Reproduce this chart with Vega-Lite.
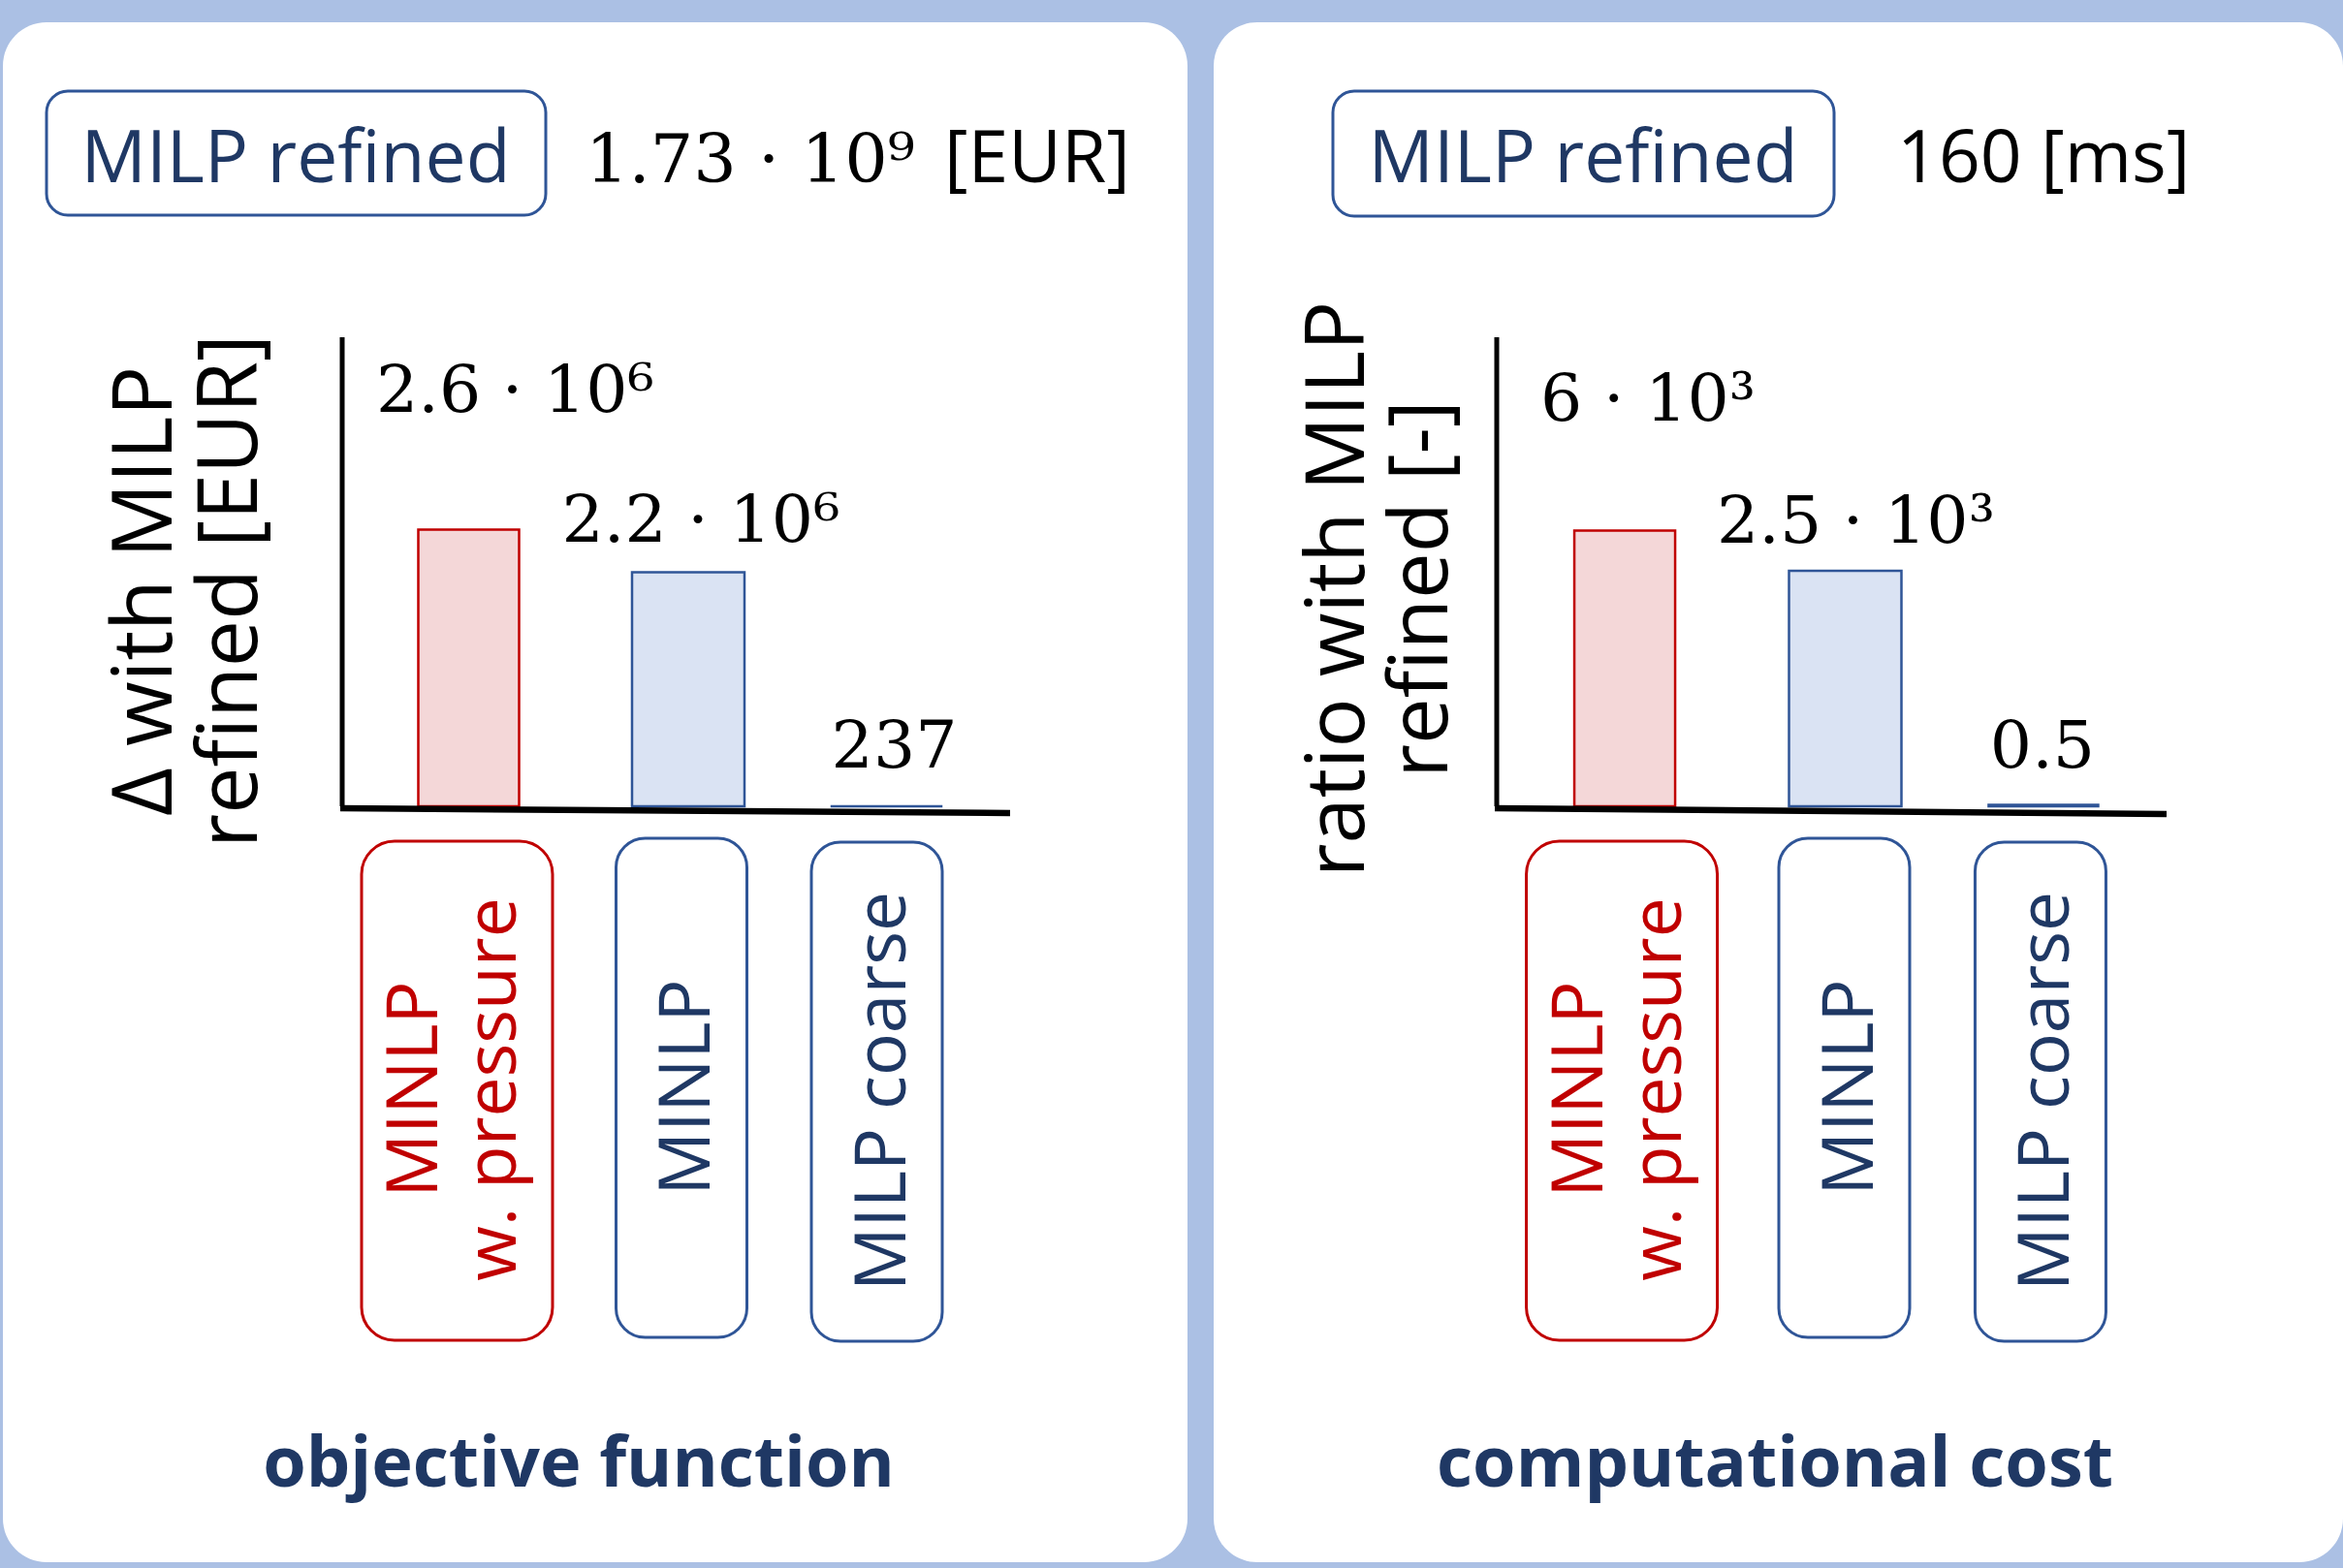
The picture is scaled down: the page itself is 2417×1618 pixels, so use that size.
{
  "$schema": "https://vega.github.io/schema/vega-lite/v6.json",
  "background": "#abc0e4",
  "padding": {"left": 3, "top": 23, "right": 0, "bottom": 6},
  "spacing": 27,
  "config": {
    "view": {"stroke": null, "fill": "white", "cornerRadius": 45},
    "font": "Open Sans",
    "text": {"font": "Open Sans"}
  },
  "datasets": {
    "objective": [
      {"model": "MINLP\nw. pressure", "value": 2600000, "label": "2.6 · 10⁶"},
      {"model": "MINLP", "value": 2200000, "label": "2.2 · 10⁶"},
      {"model": "MILP coarse", "value": 237, "label": "237"}
    ],
    "cost": [
      {"model": "MINLP\nw. pressure", "value": 6000, "label": "6 · 10³"},
      {"model": "MINLP", "value": 2500, "label": "2.5 · 10³"},
      {"model": "MILP coarse", "value": 0.5, "label": "0.5"}
    ]
  },
  "hconcat": [
    {
      "width": 1222,
      "height": 1589,
      "data": {"name": "objective"},
      "layer": [
        {
          "data": {"values": [{"name": "MILP refined"}]},
          "mark": {"type": "rect", "cornerRadius": 22, "fill": "white", "stroke": "#2f5597", "strokeWidth": 3},
          "encoding": {"x": {"value": 45}, "x2": {"value": 560}, "y": {"value": 71}, "y2": {"value": 199}}
        },
        {
          "data": {"values": [{"name": "MILP refined"}]},
          "mark": {"type": "text", "fontSize": 75, "color": "#1f3864", "align": "center", "baseline": "alphabetic"},
          "encoding": {"text": {"field": "name"}, "x": {"value": 302}, "y": {"value": 165}}
        },
        {
          "data": {"values": [{"total": "1.73 · 10⁹"}]},
          "mark": {"type": "text", "font": "DejaVu Serif", "fontSize": 70, "color": "black", "align": "left", "baseline": "alphabetic"},
          "encoding": {"text": {"field": "total"}, "x": {"value": 601}, "y": {"value": 165}}
        },
        {
          "data": {"values": [{"unit": "[EUR]"}]},
          "mark": {"type": "text", "fontSize": 75, "color": "black", "align": "left", "baseline": "alphabetic"},
          "encoding": {"text": {"field": "unit"}, "x": {"value": 971}, "y": {"value": 165}}
        },
        {
          "data": {"values": [{"title": "Δ with MILP\nrefined [EUR]"}]},
          "mark": {"type": "text", "fontSize": 86, "color": "black", "angle": 270, "align": "center", "baseline": "alphabetic", "lineBreak": "\n", "lineHeight": 88},
          "encoding": {"text": {"field": "title"}, "x": {"value": 174}, "y": {"value": 587}}
        },
        {
          "transform": [{"filter": {"field": "model", "equal": "MINLP\nw. pressure"}}],
          "mark": {"type": "bar", "width": 104, "strokeWidth": 2.5, "xOffset": 2},
          "encoding": {
            "x": {
              "field": "model", "type": "nominal", "sort": null,
              "scale": {"domain": ["MINLP\nw. pressure", "MINLP", "MILP coarse"], "range": [350, 1040], "paddingInner": 0, "paddingOuter": 0.0935},
              "axis": null
            },
            "y": {
              "field": "value", "type": "quantitative",
              "scale": {"domain": [0, 4409000], "range": [809, 325], "nice": false},
              "axis": null
            },
            "fill": {"field": "model", "type": "nominal", "scale": {"domain": ["MINLP\nw. pressure", "MINLP", "MILP coarse"], "range": ["#f4d7d8", "#dae3f3", "#dae3f3"]}, "legend": null},
            "stroke": {"field": "model", "type": "nominal", "scale": {"domain": ["MINLP\nw. pressure", "MINLP", "MILP coarse"], "range": ["#c00000", "#2f5597", "#2f5597"]}, "legend": null}
          }
        },
        {
          "transform": [{"filter": {"field": "model", "equal": "MINLP"}}],
          "mark": {"type": "bar", "width": 116, "strokeWidth": 2.5, "xOffset": 12},
          "encoding": {
            "x": {"field": "model", "type": "nominal", "axis": null},
            "y": {"field": "value", "type": "quantitative", "axis": null},
            "fill": {"field": "model", "type": "nominal", "legend": null},
            "stroke": {"field": "model", "type": "nominal", "legend": null}
          }
        },
        {
          "transform": [{"filter": {"field": "model", "equal": "MILP coarse"}}],
          "mark": {"type": "bar", "width": 113, "strokeWidth": 2.5},
          "encoding": {
            "x": {"field": "model", "type": "nominal", "axis": null},
            "y": {"field": "value", "type": "quantitative", "axis": null},
            "fill": {"field": "model", "type": "nominal", "legend": null},
            "stroke": {"field": "model", "type": "nominal", "legend": null}
          }
        },
        {
          "data": {"values": [{"axis": "y"}]},
          "mark": {"type": "rule", "color": "black", "strokeWidth": 5},
          "encoding": {"x": {"value": 350}, "y": {"datum": 0, "type": "quantitative", "axis": null}, "y2": {"datum": 4409000}}
        },
        {
          "data": {"values": [{"axis": "x"}]},
          "mark": {"type": "rule", "color": "black", "strokeWidth": 6.5},
          "encoding": {"x": {"value": 348}, "x2": {"value": 1039}, "y": {"value": 811}, "y2": {"value": 816}}
        },
        {
          "transform": [{"filter": {"field": "model", "equal": "MINLP\nw. pressure"}}],
          "mark": {"type": "text", "font": "DejaVu Serif", "fontSize": 68, "color": "black", "align": "center", "baseline": "alphabetic", "dx": 50, "dy": -122},
          "encoding": {"x": {"field": "model", "type": "nominal", "axis": null}, "y": {"field": "value", "type": "quantitative", "axis": null}, "text": {"field": "label"}}
        },
        {
          "transform": [{"filter": {"field": "model", "equal": "MINLP"}}],
          "mark": {"type": "text", "font": "DejaVu Serif", "fontSize": 68, "color": "black", "align": "center", "baseline": "alphabetic", "dx": 25, "dy": -31},
          "encoding": {"x": {"field": "model", "type": "nominal", "axis": null}, "y": {"field": "value", "type": "quantitative", "axis": null}, "text": {"field": "label"}}
        },
        {
          "transform": [{"filter": {"field": "model", "equal": "MILP coarse"}}],
          "mark": {"type": "text", "font": "DejaVu Serif", "fontSize": 68, "color": "black", "align": "center", "baseline": "alphabetic", "dx": 8, "dy": -40},
          "encoding": {"x": {"field": "model", "type": "nominal", "axis": null}, "y": {"field": "value", "type": "quantitative", "axis": null}, "text": {"field": "label"}}
        },
        {
          "transform": [{"filter": {"field": "model", "equal": "MINLP\nw. pressure"}}],
          "mark": {"type": "bar", "width": 197, "cornerRadius": 34, "fill": "transparent", "strokeWidth": 3, "xOffset": -10},
          "encoding": {
            "x": {"field": "model", "type": "nominal", "axis": null},
            "y": {"value": 845}, "y2": {"value": 1360},
            "stroke": {"field": "model", "type": "nominal", "legend": null}
          }
        },
        {
          "transform": [{"filter": {"field": "model", "equal": "MINLP"}}],
          "mark": {"type": "bar", "width": 135, "cornerRadius": 30, "fill": "transparent", "strokeWidth": 3, "xOffset": 5},
          "encoding": {
            "x": {"field": "model", "type": "nominal", "axis": null},
            "y": {"value": 842}, "y2": {"value": 1357},
            "stroke": {"field": "model", "type": "nominal", "legend": null}
          }
        },
        {
          "transform": [{"filter": {"field": "model", "equal": "MILP coarse"}}],
          "mark": {"type": "bar", "width": 135, "cornerRadius": 30, "fill": "transparent", "strokeWidth": 3, "xOffset": -10},
          "encoding": {
            "x": {"field": "model", "type": "nominal", "axis": null},
            "y": {"value": 846}, "y2": {"value": 1361},
            "stroke": {"field": "model", "type": "nominal", "legend": null}
          }
        },
        {
          "transform": [{"filter": {"field": "model", "equal": "MINLP\nw. pressure"}}],
          "mark": {"type": "text", "angle": 270, "align": "center", "baseline": "alphabetic", "lineBreak": "\n", "lineHeight": 81, "fontSize": 73, "dy": -30},
          "encoding": {
            "x": {"field": "model", "type": "nominal", "axis": null},
            "y": {"value": 1101},
            "text": {"field": "model"},
            "color": {"field": "model", "type": "nominal", "scale": {"domain": ["MINLP\nw. pressure", "MINLP", "MILP coarse"], "range": ["#c00000", "#1f3864", "#1f3864"]}, "legend": null}
          }
        },
        {
          "transform": [{"filter": {"field": "model", "equal": "MINLP"}}],
          "mark": {"type": "text", "angle": 270, "align": "center", "baseline": "alphabetic", "fontSize": 73, "dy": 34},
          "encoding": {
            "x": {"field": "model", "type": "nominal", "axis": null},
            "y": {"value": 1099},
            "text": {"field": "model"},
            "color": {"field": "model", "type": "nominal", "legend": null}
          }
        },
        {
          "transform": [{"filter": {"field": "model", "equal": "MILP coarse"}}],
          "mark": {"type": "text", "angle": 270, "align": "center", "baseline": "alphabetic", "fontSize": 73, "dy": 19},
          "encoding": {
            "x": {"field": "model", "type": "nominal", "axis": null},
            "y": {"value": 1103},
            "text": {"field": "model"},
            "color": {"field": "model", "type": "nominal", "legend": null}
          }
        },
        {
          "data": {"values": [{"panel": "objective function"}]},
          "mark": {"type": "text", "fontSize": 72, "fontWeight": "bold", "color": "#1f3864", "align": "center", "baseline": "alphabetic"},
          "encoding": {"text": {"field": "panel"}, "x": {"value": 594}, "y": {"value": 1511}}
        }
      ]
    },
    {
      "width": 1165,
      "height": 1589,
      "data": {"name": "cost"},
      "layer": [
        {
          "data": {"values": [{"name": "MILP refined"}]},
          "mark": {"type": "rect", "cornerRadius": 22, "fill": "white", "stroke": "#2f5597", "strokeWidth": 3},
          "encoding": {"x": {"value": 123}, "x2": {"value": 640}, "y": {"value": 71}, "y2": {"value": 200}}
        },
        {
          "data": {"values": [{"name": "MILP refined"}]},
          "mark": {"type": "text", "fontSize": 75, "color": "#1f3864", "align": "center", "baseline": "alphabetic"},
          "encoding": {"text": {"field": "name"}, "x": {"value": 381}, "y": {"value": 165}}
        },
        {
          "data": {"values": [{"total": "160 [ms]"}]},
          "mark": {"type": "text", "fontSize": 75, "color": "black", "align": "left", "baseline": "alphabetic"},
          "encoding": {"text": {"field": "total"}, "x": {"value": 705}, "y": {"value": 165}}
        },
        {
          "data": {"values": [{"title": "ratio with MILP\nrefined [-]"}]},
          "mark": {"type": "text", "fontSize": 85, "color": "black", "angle": 270, "align": "center", "baseline": "alphabetic", "lineBreak": "\n", "lineHeight": 86},
          "encoding": {"text": {"field": "title"}, "x": {"value": 155}, "y": {"value": 585}}
        },
        {
          "transform": [{"filter": {"field": "model", "equal": "MINLP\nw. pressure"}}],
          "mark": {"type": "bar", "width": 104, "strokeWidth": 2.5, "xOffset": 3},
          "encoding": {
            "x": {
              "field": "model", "type": "nominal", "sort": null,
              "scale": {"domain": ["MINLP\nw. pressure", "MINLP", "MILP coarse"], "range": [292, 985], "paddingInner": 0, "paddingOuter": 0.0935},
              "axis": null
            },
            "y": {
              "field": "value", "type": "quantitative",
              "scale": {"type": "symlog", "constant": 15, "domain": [0, 403500], "range": [809, 325], "nice": false},
              "axis": null
            },
            "fill": {"field": "model", "type": "nominal", "scale": {"domain": ["MINLP\nw. pressure", "MINLP", "MILP coarse"], "range": ["#f4d7d8", "#dae3f3", "#dae3f3"]}, "legend": null},
            "stroke": {"field": "model", "type": "nominal", "scale": {"domain": ["MINLP\nw. pressure", "MINLP", "MILP coarse"], "range": ["#c00000", "#2f5597", "#2f5597"]}, "legend": null}
          }
        },
        {
          "transform": [{"filter": {"field": "model", "equal": "MINLP"}}],
          "mark": {"type": "bar", "width": 116, "strokeWidth": 2.5, "xOffset": 13},
          "encoding": {
            "x": {"field": "model", "type": "nominal", "axis": null},
            "y": {"field": "value", "type": "quantitative", "axis": null},
            "fill": {"field": "model", "type": "nominal", "legend": null},
            "stroke": {"field": "model", "type": "nominal", "legend": null}
          }
        },
        {
          "transform": [{"filter": {"field": "model", "equal": "MILP coarse"}}],
          "mark": {"type": "bar", "width": 113, "strokeWidth": 2.5},
          "encoding": {
            "x": {"field": "model", "type": "nominal", "axis": null},
            "y": {"field": "value", "type": "quantitative", "axis": null},
            "fill": {"field": "model", "type": "nominal", "legend": null},
            "stroke": {"field": "model", "type": "nominal", "legend": null}
          }
        },
        {
          "data": {"values": [{"axis": "y"}]},
          "mark": {"type": "rule", "color": "black", "strokeWidth": 5},
          "encoding": {"x": {"value": 292}, "y": {"datum": 0, "type": "quantitative", "axis": null}, "y2": {"datum": 403500}}
        },
        {
          "data": {"values": [{"axis": "x"}]},
          "mark": {"type": "rule", "color": "black", "strokeWidth": 6.5},
          "encoding": {"x": {"value": 290}, "x2": {"value": 983}, "y": {"value": 811}, "y2": {"value": 817}}
        },
        {
          "transform": [{"filter": {"field": "model", "equal": "MINLP\nw. pressure"}}],
          "mark": {"type": "text", "font": "DejaVu Serif", "fontSize": 68, "color": "black", "align": "center", "baseline": "alphabetic", "dx": 27, "dy": -114},
          "encoding": {"x": {"field": "model", "type": "nominal", "axis": null}, "y": {"field": "value", "type": "quantitative", "axis": null}, "text": {"field": "label"}}
        },
        {
          "transform": [{"filter": {"field": "model", "equal": "MINLP"}}],
          "mark": {"type": "text", "font": "DejaVu Serif", "fontSize": 68, "color": "black", "align": "center", "baseline": "alphabetic", "dx": 24, "dy": -29},
          "encoding": {"x": {"field": "model", "type": "nominal", "axis": null}, "y": {"field": "value", "type": "quantitative", "axis": null}, "text": {"field": "label"}}
        },
        {
          "transform": [{"filter": {"field": "model", "equal": "MILP coarse"}}],
          "mark": {"type": "text", "font": "DejaVu Serif", "fontSize": 68, "color": "black", "align": "center", "baseline": "alphabetic", "dx": -1, "dy": -38},
          "encoding": {"x": {"field": "model", "type": "nominal", "axis": null}, "y": {"field": "value", "type": "quantitative", "axis": null}, "text": {"field": "label"}}
        },
        {
          "transform": [{"filter": {"field": "model", "equal": "MINLP\nw. pressure"}}],
          "mark": {"type": "bar", "width": 197, "cornerRadius": 34, "fill": "transparent", "strokeWidth": 3},
          "encoding": {
            "x": {"field": "model", "type": "nominal", "axis": null},
            "y": {"value": 845}, "y2": {"value": 1360},
            "stroke": {"field": "model", "type": "nominal", "legend": null}
          }
        },
        {
          "transform": [{"filter": {"field": "model", "equal": "MINLP"}}],
          "mark": {"type": "bar", "width": 135, "cornerRadius": 30, "fill": "transparent", "strokeWidth": 3, "xOffset": 12},
          "encoding": {
            "x": {"field": "model", "type": "nominal", "axis": null},
            "y": {"value": 842}, "y2": {"value": 1357},
            "stroke": {"field": "model", "type": "nominal", "legend": null}
          }
        },
        {
          "transform": [{"filter": {"field": "model", "equal": "MILP coarse"}}],
          "mark": {"type": "bar", "width": 135, "cornerRadius": 30, "fill": "transparent", "strokeWidth": 3, "xOffset": -3},
          "encoding": {
            "x": {"field": "model", "type": "nominal", "axis": null},
            "y": {"value": 846}, "y2": {"value": 1361},
            "stroke": {"field": "model", "type": "nominal", "legend": null}
          }
        },
        {
          "transform": [{"filter": {"field": "model", "equal": "MINLP\nw. pressure"}}],
          "mark": {"type": "text", "angle": 270, "align": "center", "baseline": "alphabetic", "lineBreak": "\n", "lineHeight": 81, "fontSize": 73, "dy": -20},
          "encoding": {
            "x": {"field": "model", "type": "nominal", "axis": null},
            "y": {"value": 1101},
            "text": {"field": "model"},
            "color": {"field": "model", "type": "nominal", "scale": {"domain": ["MINLP\nw. pressure", "MINLP", "MILP coarse"], "range": ["#c00000", "#1f3864", "#1f3864"]}, "legend": null}
          }
        },
        {
          "transform": [{"filter": {"field": "model", "equal": "MINLP"}}],
          "mark": {"type": "text", "angle": 270, "align": "center", "baseline": "alphabetic", "fontSize": 73, "dy": 41},
          "encoding": {
            "x": {"field": "model", "type": "nominal", "axis": null},
            "y": {"value": 1099},
            "text": {"field": "model"},
            "color": {"field": "model", "type": "nominal", "legend": null}
          }
        },
        {
          "transform": [{"filter": {"field": "model", "equal": "MILP coarse"}}],
          "mark": {"type": "text", "angle": 270, "align": "center", "baseline": "alphabetic", "fontSize": 73, "dy": 26},
          "encoding": {
            "x": {"field": "model", "type": "nominal", "axis": null},
            "y": {"value": 1103},
            "text": {"field": "model"},
            "color": {"field": "model", "type": "nominal", "legend": null}
          }
        },
        {
          "data": {"values": [{"panel": "computational cost"}]},
          "mark": {"type": "text", "fontSize": 72, "fontWeight": "bold", "color": "#1f3864", "align": "center", "baseline": "alphabetic"},
          "encoding": {"text": {"field": "panel"}, "x": {"value": 579}, "y": {"value": 1511}}
        }
      ]
    }
  ]
}
